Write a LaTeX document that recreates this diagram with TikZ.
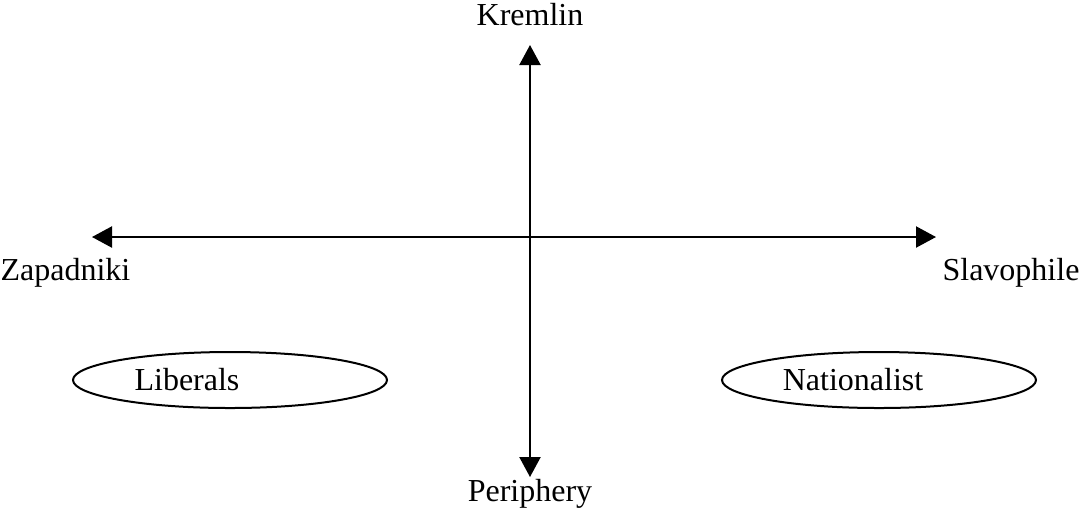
\documentclass[tikz,border=0pt]{standalone}
\usepackage{fontspec}
\setmainfont{Liberation Serif}
\usetikzlibrary{arrows.meta,shapes.geometric}

\begin{document}
\begin{tikzpicture}[x=0.375pt,y=-0.375pt,>={Triangle[length=7.5pt,width=7.9pt]},
    axis/.style={<->,line width=0.75pt},
    pole/.style={font=\fontsize{12}{14}\selectfont,inner sep=0pt},
    group/.style={draw,ellipse,line width=0.75pt,minimum width=117.75pt,minimum height=21pt}]
  \useasboundingbox (0,0) rectangle (1080,510);
  %% Poles
  \node[pole] (kremlin) at (530,15) {Kremlin};
  \node[pole] (periph)  at (530,494) {Periphery};
  \node[pole,anchor=west] (zapad) at (0,273) {Zapadniki};
  \node[pole,anchor=east] (slav)  at (1080,273) {Slavophile};
  %% Axis end points
  \coordinate (top)    at (530,45);
  \coordinate (bottom) at (530,477);
  \coordinate (left)   at (92,237);
  \coordinate (right)  at (936,237);
  %% Axes
  \draw[axis] (bottom) -- (top);
  \draw[axis] (left) -- (right);
  %% Groups
  \node[group] (liberals) at (230,380) {};
  \node[pole]  (libtext)  at (187,380) {Liberals};
  \node[group] (national) at (879,380) {};
  \node[pole]  (nattext)  at (853,380) {Nationalist};
\end{tikzpicture}
\end{document}
